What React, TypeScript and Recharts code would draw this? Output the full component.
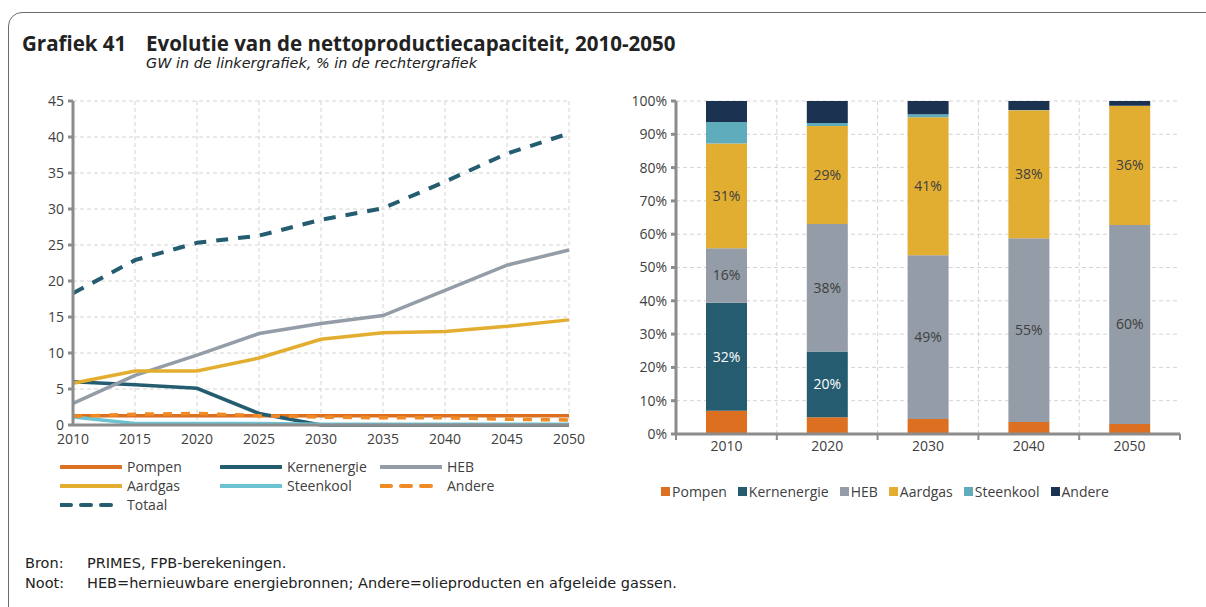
import { LineChart, Line, XAxis, YAxis, CartesianGrid, BarChart, Bar, LabelList } from 'recharts';

// left chart: GW
const years = [2010, 2015, 2020, 2025, 2030, 2035, 2040, 2045, 2050];
const pompen = [1.3, 1.3, 1.3, 1.3, 1.3, 1.3, 1.3, 1.3, 1.3];
const kernenergie = [6.0, 5.6, 5.1, 1.6, 0.0, 0.0, 0.0, 0.0, 0.0];
const heb = [3.0, 6.9, 9.7, 12.7, 14.1, 15.2, 18.7, 22.2, 24.3];
const aardgas = [5.8, 7.5, 7.5, 9.3, 11.9, 12.8, 13.0, 13.7, 14.6];
const steenkool = [1.1, 0.2, 0.2, 0.2, 0.1, 0.1, 0.1, 0.1, 0.1];
const andere = [1.2, 1.5, 1.6, 1.3, 1.1, 1.0, 1.0, 0.8, 0.7];
const totaal = [18.3, 22.9, 25.3, 26.3, 28.5, 30.1, 33.8, 37.7, 40.5];
const gwTicks = [0, 5, 10, 15, 20, 25, 30, 35, 40, 45];

// right chart: %
const barYears = ['2010', '2020', '2030', '2040', '2050'];
const pPompen = [7.0, 5.0, 4.5, 3.6, 3.0];
const pKern = [32.4, 19.8, 0, 0, 0];
const pHeb = [16.4, 38.3, 49.2, 55.2, 59.8];
const pAardgas = [31.4, 29.4, 41.4, 38.4, 35.7];
const pSteenkool = [6.5, 0.9, 0.9, 0.1, 0.1];
const pAndere = [6.3, 6.6, 4.0, 2.7, 1.4];
const pctTicks = [0, 10, 20, 30, 40, 50, 60, 70, 80, 90, 100];

const FONT = '"Open Sans", sans-serif';
const FONT2 = '"DejaVu Sans", sans-serif';
const TXT = '#404040';
const AXIS = '#8c8c8c';
const GRID = '#d4d4d4';

const lineSeries = [
  { key: 'Pompen', values: pompen, color: '#dc7020', dash: undefined as string | undefined },
  { key: 'Kernenergie', values: kernenergie, color: '#245c70', dash: undefined },
  { key: 'HEB', values: heb, color: '#939ca7', dash: undefined },
  { key: 'Aardgas', values: aardgas, color: '#e3ae2f', dash: undefined },
  { key: 'Steenkool', values: steenkool, color: '#6cc3d1', dash: undefined },
  { key: 'Andere', values: andere, color: '#f08a24', dash: '9 9' },
  { key: 'Totaal', values: totaal, color: '#245c70', dash: '12 10' },
];

const barSeries = [
  { key: 'Pompen', values: pPompen, color: '#dc7020', label: '' },
  { key: 'Kernenergie', values: pKern, color: '#255c70', label: '#ffffff' },
  { key: 'HEB', values: pHeb, color: '#939ca7', label: '#404040' },
  { key: 'Aardgas', values: pAardgas, color: '#e2ae32', label: '#404040' },
  { key: 'Steenkool', values: pSteenkool, color: '#5eacbc', label: '' },
  { key: 'Andere', values: pAndere, color: '#1b3350', label: '' },
];

const lineData = years.map((year, i) => {
  const row: Record<string, number> = { year };
  lineSeries.forEach((s) => (row[s.key] = s.values[i]));
  return row;
});

const barData = barYears.map((year, i) => {
  const row: Record<string, number | string> = { year };
  barSeries.forEach((s) => (row[s.key] = s.values[i]));
  return row;
});

const BAR_W = 580;
const BAR_MARGIN = { top: 11, right: 20, bottom: 0, left: 0 };
const BAR_YAXIS_W = 56;
const BAND = (BAR_W - BAR_MARGIN.left - BAR_MARGIN.right - BAR_YAXIS_W) / barYears.length;

function BarTick(props: any) {
  const { x, y, payload, index } = props;
  const axisY = y - 8;
  const left = x - BAND / 2;
  return (
    <g>
      <line x1={left} x2={left} y1={axisY} y2={axisY + 6} stroke={AXIS} strokeWidth={2} />
      {index === barYears.length - 1 && (
        <line x1={x + BAND / 2} x2={x + BAND / 2} y1={axisY} y2={axisY + 6} stroke={AXIS} strokeWidth={2} />
      )}
      <text x={x} y={axisY + 17} textAnchor="middle" fill={TXT} fontSize={14} fontFamily={FONT}>
        {payload.value}
      </text>
    </g>
  );
}

const pctLabel = (v: any) => (v >= 10 ? `${Math.round(v)}%` : '');

export default function App() {
  return (
    <div style={{ position: 'absolute', left: 0, top: 0, width: 1206, height: 607, overflow: 'hidden', background: '#fff', fontFamily: FONT, color: TXT }}>
      <div style={{ position: 'absolute', left: 8, top: 12, width: 1230, height: 640, border: '1.5px solid #6b6b6b', borderRadius: 14 }} />

      <div style={{ position: 'absolute', left: 22, top: 29, fontSize: 20.5, fontWeight: 700, color: '#222', whiteSpace: 'nowrap' }}>
        Grafiek 41
      </div>
      <div style={{ position: 'absolute', left: 146, top: 29, fontSize: 20.5, fontWeight: 700, color: '#222', whiteSpace: 'nowrap' }}>
        Evolutie van de nettoproductiecapaciteit, 2010-2050
      </div>
      <div style={{ position: 'absolute', left: 146, top: 55, fontSize: 14.4, fontStyle: 'italic', fontFamily: FONT2, color: '#222', whiteSpace: 'nowrap' }}>
        GW in de linkergrafiek, % in de rechtergrafiek
      </div>

      <div style={{ position: 'absolute', left: 20, top: 90 }}>
        <LineChart width={570} height={360} data={lineData} margin={{ top: 11, right: 21, bottom: 0, left: 0 }}>
          <CartesianGrid stroke={GRID} strokeDasharray="4 3" />
          <XAxis
            dataKey="year"
            type="number"
            domain={[2010, 2050]}
            ticks={years}
            height={25}
            stroke={AXIS}
            strokeWidth={3}
            tickLine={false}
            tickMargin={3}
            tick={{ fill: TXT, fontSize: 14, fontFamily: FONT }}
          />
          <XAxis xAxisId="top" dataKey="year" type="number" domain={[2010, 2050]} orientation="top" height={0} tick={false} tickLine={false} stroke={AXIS} strokeWidth={2} />
          <YAxis
            domain={[0, 45]}
            ticks={gwTicks}
            width={53}
            stroke={AXIS}
            strokeWidth={3}
            tickSize={5}
            tickMargin={4}
            tick={{ fill: TXT, fontSize: 14, fontFamily: FONT }}
          />
          <YAxis yAxisId="r" orientation="right" domain={[0, 45]} width={0} tick={false} tickLine={false} stroke={AXIS} strokeWidth={2} />
          {lineSeries.map((s) => (
            <Line
              key={s.key}
              dataKey={s.key}
              stroke={s.color}
              strokeWidth={s.key === 'Totaal' ? 4 : 3.5}
              strokeDasharray={s.dash}
              dot={false}
              isAnimationActive={false}
            />
          ))}
        </LineChart>
      </div>

      <div style={{ position: 'absolute', left: 60, top: 457, display: 'grid', gridTemplateColumns: '160px 160px 160px', rowGap: 0, fontSize: 14 }}>
        {lineSeries.map((s) => (
          <div key={s.key} style={{ display: 'flex', alignItems: 'center', height: 19 }}>
            <svg width={62} height={6} style={{ marginRight: 5 }}>
              <line x1={1} x2={61} y1={3} y2={3} stroke={s.color} strokeWidth={4} strokeDasharray={s.dash ? '10 10' : undefined} strokeLinecap="round" />
            </svg>
            <span>{s.key}</span>
          </div>
        ))}
      </div>

      <div style={{ position: 'absolute', left: 620, top: 90 }}>
        <BarChart width={BAR_W} height={370} data={barData} margin={BAR_MARGIN} barSize={41}>
          <CartesianGrid
            stroke={GRID}
            strokeDasharray="4 3"
            verticalCoordinatesGenerator={({ offset }: any) =>
              barYears.slice(1).map((_, i) => offset.left + ((i + 1) * offset.width) / barYears.length)
            }
          />
          <XAxis dataKey="year" height={26} stroke={AXIS} strokeWidth={3} tickLine={false} tick={<BarTick />} />
          <XAxis xAxisId="top" dataKey="year" orientation="top" height={0} tick={false} tickLine={false} stroke={AXIS} strokeWidth={2} />
          <YAxis
            domain={[0, 100]}
            ticks={pctTicks}
            width={BAR_YAXIS_W}
            stroke={AXIS}
            strokeWidth={3}
            tickSize={5}
            tickMargin={4}
            tickFormatter={(v) => `${v}%`}
            tick={{ fill: TXT, fontSize: 14, fontFamily: FONT }}
          />
          <YAxis yAxisId="r" orientation="right" domain={[0, 100]} width={0} tick={false} tickLine={false} stroke={AXIS} strokeWidth={2} />
          {barSeries.map((s) => (
            <Bar key={s.key} dataKey={s.key} stackId="a" fill={s.color} isAnimationActive={false}>
              {s.label && (
                <LabelList dataKey={s.key} position="center" formatter={pctLabel} fill={s.label} fontSize={14} fontFamily={FONT} />
              )}
            </Bar>
          ))}
        </BarChart>
      </div>

      <div style={{ position: 'absolute', left: 620, width: 530, top: 482, display: 'flex', justifyContent: 'center', gap: 11, fontSize: 14 }}>
        {barSeries.map((s) => (
          <div key={s.key} style={{ display: 'flex', alignItems: 'center' }}>
            <span style={{ display: 'inline-block', width: 9, height: 9, background: s.color, marginRight: 2 }} />
            <span>{s.key}</span>
          </div>
        ))}
      </div>

      <div style={{ position: 'absolute', left: 25, top: 553, fontSize: 14.5, lineHeight: '20px', fontFamily: FONT2, color: '#222' }}>
        <div style={{ display: 'flex' }}>
          <span style={{ width: 62 }}>Bron:</span>
          <span>PRIMES, FPB-berekeningen.</span>
        </div>
        <div style={{ display: 'flex' }}>
          <span style={{ width: 62 }}>Noot:</span>
          <span>HEB=hernieuwbare energiebronnen; Andere=olieproducten en afgeleide gassen.</span>
        </div>
      </div>
    </div>
  );
}
